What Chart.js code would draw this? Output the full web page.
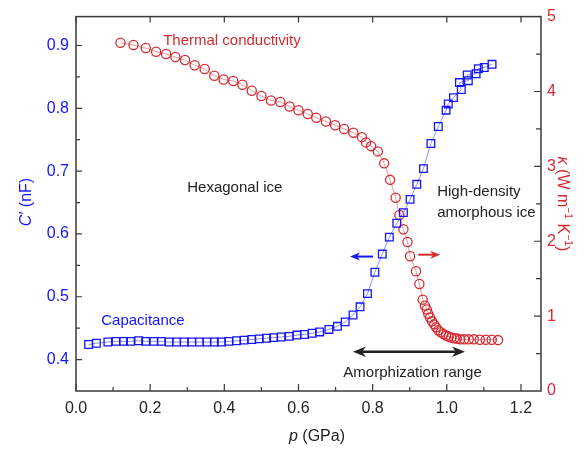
<!DOCTYPE html>
<html>
<head>
<meta charset="utf-8">
<script src="https://cdn.jsdelivr.net/npm/chart.js@4"></script>
<style>
  html, body { margin: 0; padding: 0; background: #fff; }
</style>
</head>
<body>
<canvas id="chart" width="587" height="449"></canvas>
<script>
// capacitance C' (nF) vs pressure p (GPa)
const capP = [0.034, 0.055, 0.086, 0.108, 0.128, 0.147, 0.169, 0.188, 0.210, 0.230,
  0.251, 0.271, 0.292, 0.312, 0.333, 0.353, 0.373, 0.392, 0.412, 0.433,
  0.453, 0.474, 0.494, 0.514, 0.533, 0.553, 0.575, 0.596, 0.616, 0.637,
  0.657, 0.682, 0.705, 0.726, 0.747, 0.766, 0.786, 0.806, 0.826, 0.845,
  0.865, 0.883, 0.901, 0.919, 0.937, 0.957, 0.977, 0.998, 1.004, 1.018,
  1.039, 1.034, 1.058, 1.055, 1.079, 1.085, 1.101, 1.122];
const capC = [0.424, 0.426, 0.428, 0.429, 0.429, 0.429, 0.430, 0.429, 0.429, 0.429,
  0.428, 0.428, 0.428, 0.428, 0.428, 0.428, 0.428, 0.428, 0.429, 0.430,
  0.431, 0.432, 0.433, 0.434, 0.435, 0.436, 0.437, 0.439, 0.440, 0.442,
  0.444, 0.448, 0.453, 0.460, 0.471, 0.484, 0.505, 0.539, 0.568, 0.595,
  0.617, 0.634, 0.655, 0.679, 0.704, 0.744, 0.771, 0.797, 0.807, 0.817,
  0.830, 0.841, 0.844, 0.853, 0.855, 0.863, 0.865, 0.870];

// thermal conductivity kappa (W m-1 K-1) vs pressure p (GPa)
const kapP = [0.120, 0.155, 0.188, 0.216, 0.243, 0.268, 0.294, 0.320, 0.347, 0.373,
  0.398, 0.424, 0.449, 0.474, 0.500, 0.526, 0.551, 0.576, 0.600, 0.625,
  0.648, 0.674, 0.699, 0.723, 0.748, 0.771, 0.782, 0.796, 0.814, 0.831,
  0.847, 0.862, 0.872, 0.883, 0.894, 0.901, 0.917, 0.926, 0.935, 0.941,
  0.946, 0.950, 0.955, 0.960, 0.966, 0.971, 0.977, 0.984, 0.991, 0.998,
  1.005, 1.012, 1.020, 1.027, 1.036, 1.047, 1.059, 1.073, 1.089, 1.105,
  1.121, 1.138];
const kapK = [4.65, 4.62, 4.58, 4.53, 4.50, 4.46, 4.42, 4.35, 4.30, 4.21,
  4.16, 4.14, 4.09, 4.01, 3.94, 3.88, 3.86, 3.80, 3.75, 3.70,
  3.65, 3.60, 3.55, 3.50, 3.45, 3.39, 3.32, 3.27, 3.20, 3.04,
  2.82, 2.58, 2.35, 2.16, 1.99, 1.80, 1.60, 1.43, 1.22, 1.14,
  1.09, 1.03, 0.98, 0.93, 0.89, 0.85, 0.81, 0.785, 0.76, 0.74,
  0.727, 0.714, 0.705, 0.70, 0.69, 0.69, 0.69, 0.69, 0.685, 0.685,
  0.685, 0.68];

const pTicks = [0, 0.2, 0.4, 0.6, 0.8, 1.0, 1.2];
const cTicks = [0.4, 0.5, 0.6, 0.7, 0.8, 0.9];
const kTicks = [0, 1, 2, 3, 4, 5];

const BLUE = '#1414ff';
const RED = '#d62a32';
const AXIS = '#3a3a3a';
const FONT = "'Liberation Sans', Arial, Helvetica, sans-serif";

Chart.defaults.font.family = FONT;

function pts(xs, ys) {
  return xs.map((x, i) => ({ x: x, y: ys[i] }));
}

// draw a run of text pieces (italic / superscript) starting at x
function richText(ctx, parts, x, y, size, color, align) {
  const widths = parts.map(p => {
    ctx.font = (p.it ? 'italic ' : '') + (p.sup ? size * 0.65 : size) + 'px ' + FONT;
    return ctx.measureText(p.t).width;
  });
  const total = widths.reduce((a, b) => a + b, 0);
  let cx = align === 'center' ? x - total / 2 : x;
  ctx.fillStyle = color;
  ctx.textBaseline = 'middle';
  ctx.textAlign = 'left';
  parts.forEach((p, i) => {
    ctx.font = (p.it ? 'italic ' : '') + (p.sup ? size * 0.65 : size) + 'px ' + FONT;
    ctx.fillText(p.t, cx, p.sup ? y - size * 0.35 : y);
    cx += widths[i];
  });
}

function arrow(ctx, x1, y1, x2, y2, color, lw, head, both) {
  ctx.save();
  ctx.strokeStyle = color;
  ctx.fillStyle = color;
  ctx.lineWidth = lw;
  const a = Math.atan2(y2 - y1, x2 - x1);
  const drawHead = (x, y, ang) => {
    ctx.beginPath();
    ctx.moveTo(x, y);
    ctx.lineTo(x - head * Math.cos(ang) + head * 0.4 * Math.sin(ang), y - head * Math.sin(ang) - head * 0.4 * Math.cos(ang));
    ctx.lineTo(x - head * 0.7 * Math.cos(ang), y - head * 0.7 * Math.sin(ang));
    ctx.lineTo(x - head * Math.cos(ang) - head * 0.4 * Math.sin(ang), y - head * Math.sin(ang) + head * 0.4 * Math.cos(ang));
    ctx.closePath();
    ctx.fill();
  };
  ctx.beginPath();
  ctx.moveTo(x1 + (both ? head * 0.7 * Math.cos(a) : 0), y1 + (both ? head * 0.7 * Math.sin(a) : 0));
  ctx.lineTo(x2 - head * 0.7 * Math.cos(a), y2 - head * 0.7 * Math.sin(a));
  ctx.stroke();
  drawHead(x2, y2, a);
  if (both) drawHead(x1, y1, a + Math.PI);
  ctx.restore();
}

const decorations = {
  id: 'decorations',
  afterDraw(chart) {
    const ctx = chart.ctx;
    const area = chart.chartArea;
    const sx = chart.scales.x, sc = chart.scales.yC, sk = chart.scales.yK;
    ctx.save();

    // frame
    ctx.strokeStyle = AXIS;
    ctx.lineWidth = 1.5;
    ctx.strokeRect(area.left, area.top, area.right - area.left, area.bottom - area.top);

    // tick marks, pointing inward
    ctx.lineWidth = 1.2;
    ctx.beginPath();
    for (let v = 0; v <= 1.25; v += 0.1) {
      const x = sx.getPixelForValue(v);
      const major = Math.round(v * 10) % 2 === 0;
      ctx.moveTo(x, area.bottom);
      ctx.lineTo(x, area.bottom - (major ? 7 : 4));
      if (major) {
        ctx.moveTo(x, area.top);
        ctx.lineTo(x, area.top + 6);
      }
    }
    for (let v = 0.4; v <= 0.95; v += 0.05) {
      const y = sc.getPixelForValue(v);
      const major = Math.round(v * 100) % 10 === 0;
      ctx.moveTo(area.left, y);
      ctx.lineTo(area.left + (major ? 6 : 4), y);
    }
    for (let v = 0.5; v < 5; v += 0.5) {
      const y = sk.getPixelForValue(v);
      const major = Math.round(v * 10) % 10 === 0;
      ctx.moveTo(area.right, y);
      ctx.lineTo(area.right - (major ? 7 : 5), y);
    }
    ctx.stroke();

    // axis titles
    ctx.save();
    ctx.translate(27, 202);
    ctx.rotate(-Math.PI / 2);
    richText(ctx, [{ t: 'C', it: true }, { t: '\u2032 (nF)' }], 0, 0, 16, BLUE, 'center');
    ctx.restore();

    ctx.save();
    ctx.translate(562, 204);
    ctx.rotate(Math.PI / 2);
    richText(ctx, [{ t: '\u03ba', it: true }, { t: ' (W m' }, { t: '\u22121', sup: true },
      { t: ' K' }, { t: '\u22121', sup: true }, { t: ')' }], 0, 0, 16, RED, 'center');
    ctx.restore();

    richText(ctx, [{ t: 'p', it: true }, { t: ' (GPa)' }], 317, 437, 16, '#222', 'center');

    // labels inside the plot
    const fx = v => sx.getPixelForValue(v);
    const fy = v => sc.getPixelForValue(v);
    richText(ctx, [{ t: 'Thermal conductivity' }], fx(0.235), fy(0.907), 15, RED, 'left');
    richText(ctx, [{ t: 'Capacitance' }], fx(0.068), fy(0.4616), 15, BLUE, 'left');
    richText(ctx, [{ t: 'Hexagonal ice' }], fx(0.30), fy(0.673), 15, '#222', 'left');
    richText(ctx, [{ t: 'High-density' }], fx(0.974), fy(0.667), 15, '#222', 'left');
    richText(ctx, [{ t: 'amorphous ice' }], fx(0.974), fy(0.634), 15, '#222', 'left');
    richText(ctx, [{ t: 'Amorphization range' }], fx(0.721), fy(0.379), 15, '#222', 'left');

    // arrows
    arrow(ctx, fx(0.747), fy(0.4126), fx(1.049), fy(0.4126), '#222', 2.6, 13, true);
    arrow(ctx, fx(0.801), fy(0.564), fx(0.739), fy(0.564), BLUE, 2, 10, false);
    arrow(ctx, fx(0.923), fy(0.567), fx(0.982), fy(0.567), RED, 2, 10, false);

    ctx.restore();
  }
};

new Chart(document.getElementById('chart'), {
  type: 'line',
  data: {
    datasets: [
      {
        label: 'Capacitance',
        data: pts(capP, capC),
        yAxisID: 'yC',
        borderColor: '#8c8cff',
        borderWidth: 1,
        pointStyle: 'rect',
        pointRadius: 5.4,
        pointBorderWidth: 1.3,
        pointBorderColor: BLUE,
        pointBackgroundColor: 'rgba(255,255,255,0)',
        tension: 0
      },
      {
        label: 'Thermal conductivity',
        data: pts(kapP, kapK),
        yAxisID: 'yK',
        borderColor: '#ec9a9a',
        borderWidth: 1,
        pointStyle: 'circle',
        pointRadius: 4.6,
        pointBorderWidth: 1.3,
        pointBorderColor: RED,
        pointBackgroundColor: 'rgba(255,255,255,0)',
        tension: 0
      }
    ]
  },
  options: {
    responsive: false,
    animation: false,
    devicePixelRatio: 1,
    layout: { padding: { top: 14, left: 0, right: 0, bottom: 0 } },
    plugins: { legend: { display: false }, tooltip: { enabled: false } },
    scales: {
      x: {
        type: 'linear',
        min: 0,
        max: 1.254,
        grid: { display: false, drawTicks: false },
        border: { display: false },
        afterBuildTicks: s => { s.ticks = pTicks.map(v => ({ value: v })); },
        afterFit: s => { s.height = 58; },
        ticks: { color: '#222', padding: 8, font: { size: 16 }, callback: v => v.toFixed(1), maxRotation: 0 }
      },
      yC: {
        position: 'left',
        min: 0.35,
        max: 0.946,
        grid: { display: false, drawTicks: false },
        border: { display: false },
        afterBuildTicks: s => { s.ticks = cTicks.map(v => ({ value: v })); },
        afterFit: s => { s.width = 76; },
        ticks: { color: BLUE, padding: 7, font: { size: 16 }, callback: v => v.toFixed(1) }
      },
      yK: {
        position: 'right',
        min: 0,
        max: 5,
        grid: { display: false, drawTicks: false },
        border: { display: false },
        afterBuildTicks: s => { s.ticks = kTicks.map(v => ({ value: v })); },
        afterFit: s => { s.width = 46; },
        ticks: { color: RED, padding: 6, font: { size: 16 }, callback: v => String(v) }
      }
    }
  },
  plugins: [decorations]
});
</script>
</body>
</html>
